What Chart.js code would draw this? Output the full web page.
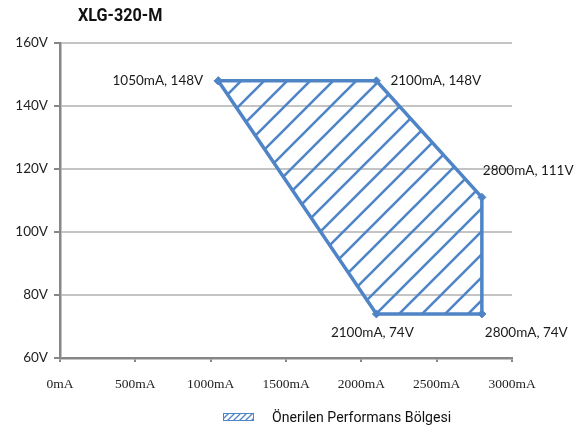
<!DOCTYPE html>
<html>
<head>
<meta charset="utf-8">
<script src="https://cdn.jsdelivr.net/npm/chart.js@4.4.1/dist/chart.umd.min.js"></script>
<style>
  html, body { margin: 0; padding: 0; background: #ffffff; }
  #wrap { width: 588px; height: 434px; position: relative; }
</style>
</head>
<body>
<div id="wrap"><canvas id="c" width="588" height="434"></canvas></div>
<script>
// ---- data ----
const chartTitle = 'XLG-320-M';
const seriesName = 'Önerilen Performans Bölgesi';
const currentsMA = [1050, 2100, 2800, 2800, 2100, 1050];
const voltagesV  = [148, 148, 111, 74, 74, 148];
const xTickValues = [0, 500, 1000, 1500, 2000, 2500, 3000];
const yTickValues = [60, 80, 100, 120, 140, 160];
const labelCount = 5; // distinct vertices (last point closes the shape)
const labelPlacement = ['left', 'right', 'aboveRight', 'belowRight', 'below'];

// ---- styles ----
const BLUE = '#4F85C7';
const GRID = '#C4C4C4';
const AXIS = '#878787';

function makeHatch(size, lw, color) {
  const c = document.createElement('canvas');
  c.width = size; c.height = size;
  const g = c.getContext('2d');
  g.strokeStyle = color;
  g.lineWidth = lw;
  g.lineCap = 'square';
  g.beginPath();
  g.moveTo(0, size); g.lineTo(size, 0);
  g.moveTo(-2, 2); g.lineTo(2, -2);
  g.moveTo(size - 2, size + 2); g.lineTo(size + 2, size - 2);
  g.stroke();
  return document.getElementById('c').getContext('2d').createPattern(c, 'repeat');
}
const bigHatch = makeHatch(23, 2.6, BLUE);
const smallHatch = makeHatch(6, 1.3, BLUE);

const points = currentsMA.map((x, i) => ({ x: x, y: voltagesV[i] }));

function condensedText(ctx, txt, x, y, sx) {
  ctx.save();
  ctx.translate(x, y);
  ctx.scale(sx, 1);
  ctx.fillText(txt, 0, 0);
  ctx.restore();
}

const decorPlugin = {
  id: 'decor',
  afterDatasetsDraw(chart) {
    const ctx = chart.ctx;
    const xs = chart.scales.x, ys = chart.scales.y;
    ctx.save();
    // data labels
    ctx.fillStyle = '#1a1a1a';
    ctx.font = '13.5px Lato, "Open Sans", sans-serif';
    ctx.textBaseline = 'middle';
    for (let i = 0; i < labelCount; i++) {
      const px = xs.getPixelForValue(currentsMA[i]);
      const py = ys.getPixelForValue(voltagesV[i]);
      const txt = currentsMA[i] + 'mA, ' + voltagesV[i] + 'V';
      const p = labelPlacement[i];
      if (p === 'left') { ctx.textAlign = 'right'; ctx.fillText(txt, px - 15, py); }
      else if (p === 'right') { ctx.textAlign = 'left'; ctx.fillText(txt, px + 14, py); }
      else if (p === 'aboveRight') { ctx.textAlign = 'left'; ctx.fillText(txt, px + 1, py - 27); }
      else if (p === 'below') { ctx.textAlign = 'center'; ctx.fillText(txt, px - 4, py + 19); }
      else if (p === 'belowRight') { ctx.textAlign = 'left'; ctx.fillText(txt, px + 3, py + 19); }
    }
    // title
    ctx.fillStyle = '#111111';
    ctx.font = 'bold 18px Roboto, "Liberation Sans", sans-serif';
    ctx.textAlign = 'left';
    condensedText(ctx, chartTitle, 78, 16, 0.9);
    // legend
    const bx = 223, by = 413, bw = 31, bh = 8;
    ctx.fillStyle = smallHatch;
    ctx.fillRect(bx, by, bw, bh);
    ctx.strokeStyle = BLUE;
    ctx.lineWidth = 1;
    ctx.strokeRect(bx + 0.5, by + 0.5, bw - 1, bh - 1);
    ctx.fillStyle = '#111111';
    ctx.font = '15px Roboto, "Liberation Sans", sans-serif';
    ctx.textAlign = 'left';
    condensedText(ctx, seriesName, 272, 418, 0.94);
    ctx.restore();
  }
};

new Chart(document.getElementById('c'), {
  type: 'scatter',
  data: {
    datasets: [{
      label: seriesName,
      data: points,
      showLine: true,
      fill: 'shape',
      backgroundColor: bigHatch,
      borderColor: BLUE,
      borderWidth: 3.5,
      tension: 0,
      pointStyle: 'rectRot',
      pointRadius: 4,
      pointBackgroundColor: BLUE,
      pointBorderColor: BLUE,
      pointBorderWidth: 1
    }]
  },
  options: {
    responsive: false,
    animation: false,
    layout: { padding: { left: 0, top: 43, right: 76, bottom: 36 } },
    plugins: {
      legend: { display: false },
      title: { display: false },
      tooltip: { enabled: false }
    },
    scales: {
      x: {
        type: 'linear',
        min: 0, max: 3000,
        afterBuildTicks(s) { s.ticks = xTickValues.map(v => ({ value: v })); },
        afterFit(s) { s.height = 40; },
        grid: { drawOnChartArea: false, drawTicks: true, tickLength: 4, tickColor: AXIS, lineWidth: 2 },
        border: { display: true, color: AXIS, width: 2.5 },
        ticks: {
          callback: v => v + 'mA',
          color: '#222222',
          font: { family: '"Liberation Serif", "DejaVu Serif", serif', size: 13.5 },
          padding: 14,
          maxRotation: 0,
          autoSkip: false
        }
      },
      y: {
        type: 'linear',
        min: 60, max: 160,
        afterBuildTicks(s) { s.ticks = yTickValues.map(v => ({ value: v })); },
        afterFit(s) { s.width = 60; },
        grid: { color: GRID, lineWidth: 2, drawTicks: true, tickLength: 6, tickColor: AXIS },
        border: { display: true, color: AXIS, width: 2.5 },
        ticks: {
          callback: v => v + 'V',
          color: '#222222',
          font: { family: 'Lato, "Open Sans", sans-serif', size: 13.5 },
          padding: 6,
          autoSkip: false
        }
      }
    }
  },
  plugins: [decorPlugin]
});
</script>
</body>
</html>
